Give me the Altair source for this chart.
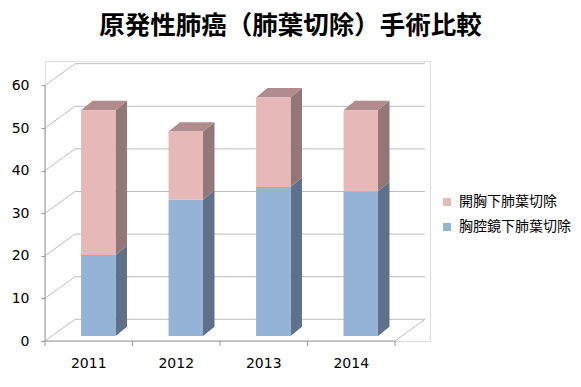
import altair as alt
import pandas as pd

# ---- data ----
years = ["2011", "2012", "2013", "2014"]
series = ["胸腔鏡下肺葉切除", "開胸下肺葉切除"]          # bottom -> top of stack
thoracoscopic = [19, 32, 35, 34]                         # 胸腔鏡下肺葉切除
open_chest = [34, 16, 21, 19]                            # 開胸下肺葉切除
y_ticks = [0, 10, 20, 30, 40, 50, 60]
title_text = "原発性肺癌（肺葉切除）手術比較"

# ---- styling (3D look) ----
front_col = {"胸腔鏡下肺葉切除": "#95B3D7", "開胸下肺葉切除": "#E6B9B8"}
side_col = {"胸腔鏡下肺葉切除": "#5F708A", "開胸下肺葉切除": "#937676"}
top_col = {"胸腔鏡下肺葉切除": "#7F93AE", "開胸下肺葉切除": "#B08D8C"}
GRID = "#BDBDBD"
AXIS = "#9A9A9A"

X_DOMAIN = [-0.5, 3.9]
Y_DOMAIN = [0, 65.73]
BAR_SHIFT, BAR_HALF = 0.109, 0.197
SIDE_DX, SIDE_DY = 0.131, 2.2
BASE = 1.17
WALL_DX, WALL_DY = 0.343, 5.1

# ---- tables built from the arrays ----
values = {"胸腔鏡下肺葉切除": thoracoscopic, "開胸下肺葉切除": open_chest}
fronts, sides, tops = [], [], []
for i, yr in enumerate(years):
    cum = BASE
    xl = i + BAR_SHIFT - BAR_HALF
    xr = i + BAR_SHIFT + BAR_HALF
    for s in series:
        v = values[s][i]
        lo, hi = cum, cum + v
        fronts.append({"year": yr, "series": s, "x1": xl, "x2": xr, "lo": lo, "hi": hi})
        key = f"{yr}-{s}"
        sides.append({"key": key, "x": xr, "lo": lo, "hi": hi, "c": side_col[s]})
        sides.append({"key": key, "x": xr + SIDE_DX, "lo": lo + SIDE_DY, "hi": hi + SIDE_DY, "c": side_col[s]})
        cum = hi
    s = series[-1]
    t = cum
    for x, lo, hi in [(xl, t, t), (xl + SIDE_DX, t, t + SIDE_DY),
                      (xr, t, t + SIDE_DY), (xr + SIDE_DX, t + SIDE_DY, t + SIDE_DY)]:
        tops.append({"key": yr, "x": x, "lo": lo, "hi": hi, "c": top_col[s]})

fronts = pd.DataFrame(fronts)
sides = pd.DataFrame(sides)
tops = pd.DataFrame(tops)

n = len(years)
grid_df = pd.DataFrame({"v": y_ticks})
grid_df["vb"] = grid_df["v"] + WALL_DY
grid_df["xa"] = -0.5
grid_df["xb"] = -0.5 + WALL_DX
grid_df["xe"] = n - 0.5 + WALL_DX

xtick_df = pd.DataFrame({"x": [k - 0.5 for k in range(n + 1)]})
xlab_df = pd.DataFrame({"year": years, "x": list(range(n))})
floor_df = pd.DataFrame({"xa": [-0.5], "xb": [n - 0.5], "xc": [n - 0.5 + WALL_DX],
                         "y0": [0.0], "yb": [WALL_DY], "ymax": [max(y_ticks)]})

xs = alt.Scale(domain=X_DOMAIN, nice=False, zero=False)
ys = alt.Scale(domain=Y_DOMAIN, nice=False, zero=False)
yaxis = alt.Axis(values=y_ticks, domain=False, grid=False, tickSize=4, tickColor=AXIS,
                 labelFont="DejaVu Sans", labelFontSize=14, labelColor="#000000",
                 labelPadding=12, title=None)


def X(f):
    return alt.X(f, scale=xs, axis=None, title=None)


def Y(f):
    return alt.Y(f, scale=ys, axis=yaxis, stack=None, title=None)


back_grid = alt.Chart(grid_df).mark_rule(color=GRID, strokeWidth=1).encode(
    x=X("xb:Q"), x2="xe:Q", y=Y("vb:Q"))
left_wall = alt.Chart(grid_df).mark_rule(color=GRID, strokeWidth=1).encode(
    x=X("xa:Q"), x2="xb:Q", y=Y("v:Q"), y2="vb:Q")
floor_front = alt.Chart(floor_df).mark_rule(color=AXIS, strokeWidth=1).encode(
    x=X("xa:Q"), x2="xb:Q", y=Y("y0:Q"))
floor_right = alt.Chart(floor_df).mark_rule(color=GRID, strokeWidth=1).encode(
    x=X("xb:Q"), x2="xc:Q", y=Y("y0:Q"), y2="yb:Q")
y_line = alt.Chart(floor_df).mark_rule(color=AXIS, strokeWidth=1).encode(
    x=X("xa:Q"), y=Y("y0:Q"), y2="ymax:Q")
x_ticks = alt.Chart(xtick_df).mark_rule(color=AXIS, strokeWidth=1).encode(
    x=X("x:Q"), y=alt.value(280), y2=alt.value(285))

side_layer = alt.Chart(sides).mark_area(interpolate="linear").encode(
    x=X("x:Q"), y=Y("lo:Q"), y2="hi:Q", detail="key:N",
    fill=alt.Fill("c:N", scale=None))
top_layer = alt.Chart(tops).mark_area(interpolate="linear").encode(
    x=X("x:Q"), y=Y("lo:Q"), y2="hi:Q", detail="key:N",
    fill=alt.Fill("c:N", scale=None))
front_layer = alt.Chart(fronts).mark_rect().encode(
    x=X("x1:Q"), x2="x2:Q", y=Y("lo:Q"), y2="hi:Q",
    color=alt.Color("series:N",
                    scale=alt.Scale(domain=[series[1], series[0]],
                                    range=[front_col[series[1]], front_col[series[0]]]),
                    legend=alt.Legend(title=None, orient="none", legendX=395, legendY=134,
                                      symbolType="square", symbolSize=64,
                                      symbolStrokeWidth=0,
                                      labelFont="Noto Sans CJK JP", labelFontSize=14,
                                      labelColor="#000000", rowPadding=11, labelOffset=5,
                                      labelLimit=200)))
x_labels = alt.Chart(xlab_df).mark_text(font="DejaVu Sans", fontSize=14, color="#000000",
                                        baseline="middle").encode(
    x=X("x:Q"), y=alt.value(303), text="year:N")

chart = alt.layer(
    back_grid, left_wall, floor_front, floor_right, y_line, x_ticks,
    side_layer, top_layer, front_layer, x_labels
).properties(
    width=385, height=280,
    title=alt.TitleParams(title_text, font="Noto Sans CJK JP", fontSize=25.5,
                          fontWeight="bold", color="#000000", anchor="middle",
                          frame="group", dx=53, offset=22),
    autosize=alt.AutoSizeParams(type="none"),
    padding={"left": 37, "top": 53, "right": 143, "bottom": 37},
).configure_view(stroke="transparent", strokeWidth=0).configure(background="#FFFFFF")

chart.save("out.html", embed_options={"renderer": "svg", "actions": False})
